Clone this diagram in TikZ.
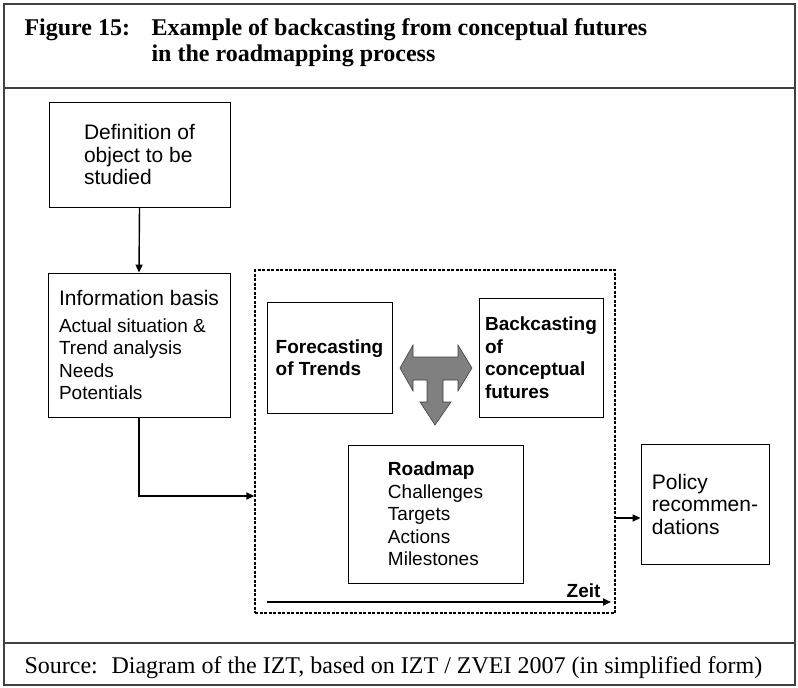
\documentclass[tikz,border=0pt]{standalone}
\usepackage{fontspec}
\setmainfont{Liberation Serif}
\setsansfont{Liberation Sans}
\usetikzlibrary{arrows.meta}

\tikzset{
  box/.style={draw, line width=0.9pt, inner sep=0pt, align=left,
    font=\sffamily\fontsize{19}{22.5}\selectfont},
  bigbox/.style={box, font=\sffamily\fontsize{21}{22.5}\selectfont},
  arr/.style={line width=1.4pt, -{Triangle[length=8pt,width=7pt]}},
  rule/.style={line width=1.6pt, draw=black!75}
}

\begin{document}
\begin{tikzpicture}[x=1pt, y=-1pt]
\useasboundingbox (0,0) rectangle (798,688);

			% Rahmen, Kopf und Fuss
			\draw[rule] (4,4) rectangle (795,685);
			\draw[rule] (4,88) -- (795,88);
			\draw[rule] (4,643) -- (795,643);
			\node[anchor=base west, font=\bfseries\fontsize{24}{26}\selectfont] (figlabel) at (21,35) {Figure 15:};
			\node[anchor=base west, font=\bfseries\fontsize{24}{26}\selectfont] (figtitle) at (148,35) {Example of backcasting from conceptual futures};
			\node[anchor=base west, font=\bfseries\fontsize{24}{26}\selectfont] (figtitletwo) at (148,61) {in the roadmapping process};
			\node[anchor=base west, font=\fontsize{24}{26}\selectfont] (srclabel) at (21,673) {Source:};
			\node[anchor=base west, font=\fontsize{24}{26}\selectfont] (srctext) at (108,673) {Diagram of the IZT, based on IZT / ZVEI 2007 (in simplified form)};

			% Kaesten links
			\node[bigbox, minimum width=181, minimum height=105] (def) at (139.5,154.5) {Definition of\\object to be\\studied};
			\node[box, minimum width=182, minimum height=144] (info) at (139,345)
				{{\fontsize{21}{22.5}\selectfont Information basis}\\[4pt]Actual situation \&\\Trend analysis\\Needs\\Potentials};

			% Prozess (gestrichelt)
			\node[draw, line width=1.3pt, dash pattern=on 3pt off 1.5pt, minimum width=360, minimum height=343] (process) at (435,441.5) {};
			\node[box, minimum width=125, minimum height=111] (fore) at (329.5,357.5) {\textbf{Forecasting}\\\textbf{of Trends}};
			\node[box, minimum width=124, minimum height=119] (back) at (541,357.5) {\textbf{Backcasting}\\\textbf{of}\\\textbf{conceptual}\\\textbf{futures}};
			\node[box, minimum width=175, minimum height=138] (roadmap) at (435.5,514)
				{\textbf{Roadmap}\\Challenges\\Targets\\Actions\\Milestones};
			\node[bigbox, minimum width=128, minimum height=120] (policy) at (705,504) {Policy\\recommen-\\dations};

			% T-Pfeil zwischen den Kaesten
			\draw[fill=black!50, draw=black!75, line width=0.6pt]
				(400,368) -- (413,345) -- (413,357) -- (458,357) -- (458,345) -- (472,368)
				-- (458,391) -- (458,380) -- (443,380) -- (443,402) -- (451,402) -- (435,425)
				-- (420,402) -- (427,402) -- (427,380) -- (413,380) -- (413,391) -- cycle;

			% Zeitachse
			\coordinate (zeitstart) at (267,602);
			\coordinate (zeitend) at (611,602);
			\draw[arr, line width=1.8pt] (zeitstart) -- (zeitend);
			\node[anchor=base east, font=\sffamily\bfseries\fontsize{19}{22}\selectfont] (zeit) at (604,597) {Zeit};

			% Verbindungen
			\draw[arr] (def.south) -- (info.north);
			\draw[arr] (info.south) |- ([yshift=-54.5pt]process.west);
			\coordinate (pin) at ([yshift=-14pt]policy.west);
			\draw[arr] (process.east |- pin) -- (pin);

\end{tikzpicture}
\end{document}
